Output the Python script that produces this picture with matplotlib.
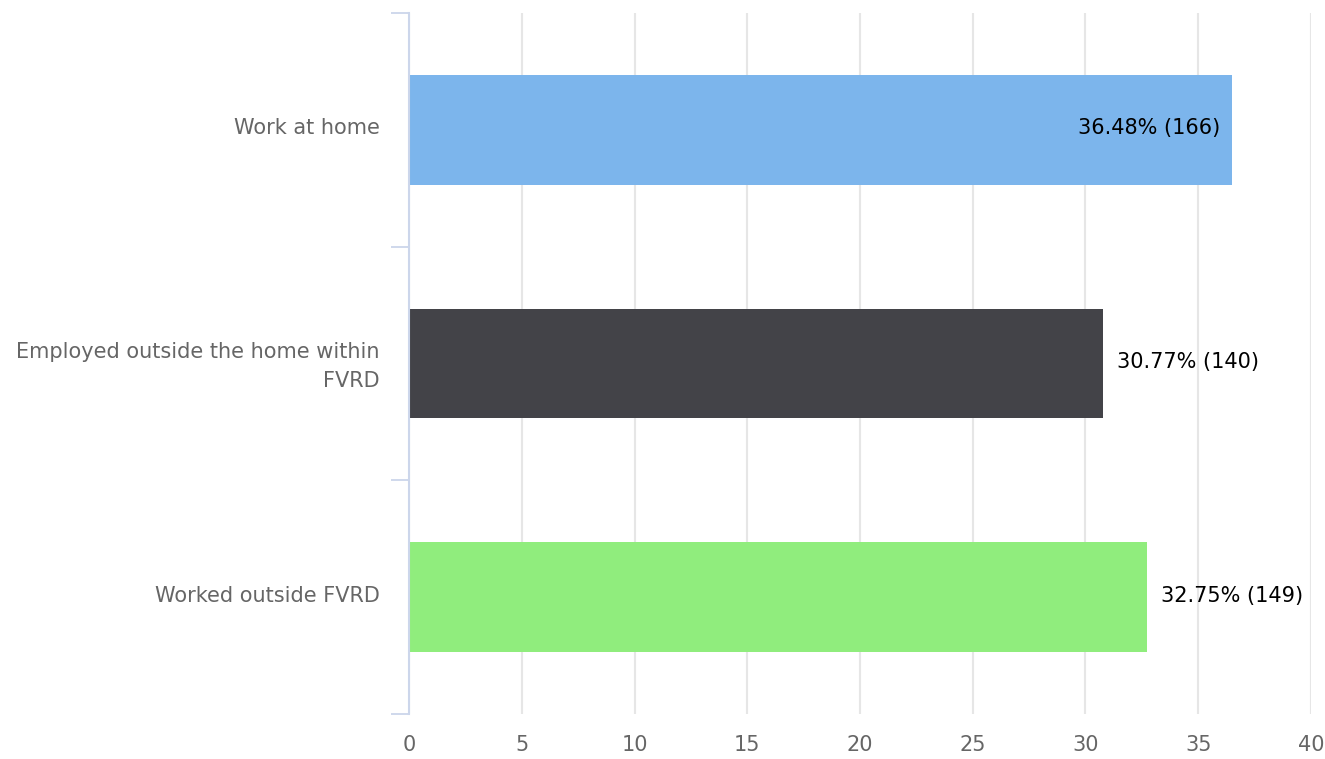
import matplotlib
matplotlib.use("Agg")
from matplotlib import pyplot as plt
from matplotlib.transforms import ScaledTranslation
from numpy import arange

categories = ["Work at home", "Employed outside the home within\nFVRD", "Worked outside FVRD"]
percents = [36.48, 30.77, 32.75]
counts = [166, 140, 149]
colors = ["#7cb5ec", "#434348", "#90ed7d"]
xticks = [0, 5, 10, 15, 20, 25, 30, 35, 40]


def main():
    plt.rcParams["font.family"] = "DejaVu Sans"
    fig = plt.figure(figsize=(13.25, 7.59), dpi=100)
    ax = fig.add_axes([0.3087, 0.0593, 0.9894 - 0.3087, 0.9829 - 0.0593])

    y = arange(len(categories))
    bars = ax.barh(y, percents, height=0.47, color=colors, zorder=2)

    ax.set_xlim(0, 40)
    ax.set_ylim(len(categories) - 0.5, -0.5)

    # value labels: inside the bar if it reaches near the end, else just past it
    for i, b in enumerate(bars):
        text = "%.2f%% (%d)" % (percents[i], counts[i])
        end = b.get_width()
        yc = b.get_y() + b.get_height() / 2
        if end > 35:
            ax.annotate(text, (end, yc), xytext=(-8, 1), textcoords="offset points",
                        ha="right", va="center", fontsize=15, color="black", zorder=3)
        else:
            ax.annotate(text, (end, yc), xytext=(10, 1), textcoords="offset points",
                        ha="left", va="center", fontsize=15, color="black", zorder=3)

    ax.set_xticks(xticks)
    ax.set_xticklabels([str(t) for t in xticks], fontsize=15, color="#666666")
    ax.tick_params(axis="x", length=0, pad=15)

    ax.set_yticks(y)
    ax.set_yticklabels(categories, fontsize=15, color="#666666", linespacing=1.55)
    ax.tick_params(axis="y", which="major", length=0, pad=21)
    nudge = ScaledTranslation(0, 0.035, fig.dpi_scale_trans)
    for lbl in ax.get_yticklabels():
        lbl.set_transform(lbl.get_transform() + nudge)
    ax.set_yticks(arange(-0.5, len(categories), 1), minor=True)
    ax.tick_params(axis="y", which="minor", length=13, width=1.3, color="#ccd6eb")

    ax.grid(axis="x", color="#e6e6e6", linewidth=1.5, zorder=0)
    ax.set_axisbelow(True)

    for side in ["top", "right", "bottom"]:
        ax.spines[side].set_visible(False)
    ax.spines["left"].set_color("#ccd6eb")
    ax.spines["left"].set_linewidth(1.5)
    ax.spines["left"].set_zorder(3)

    fig.savefig("out.png", dpi=100)


if __name__ == '__main__':
    main()
